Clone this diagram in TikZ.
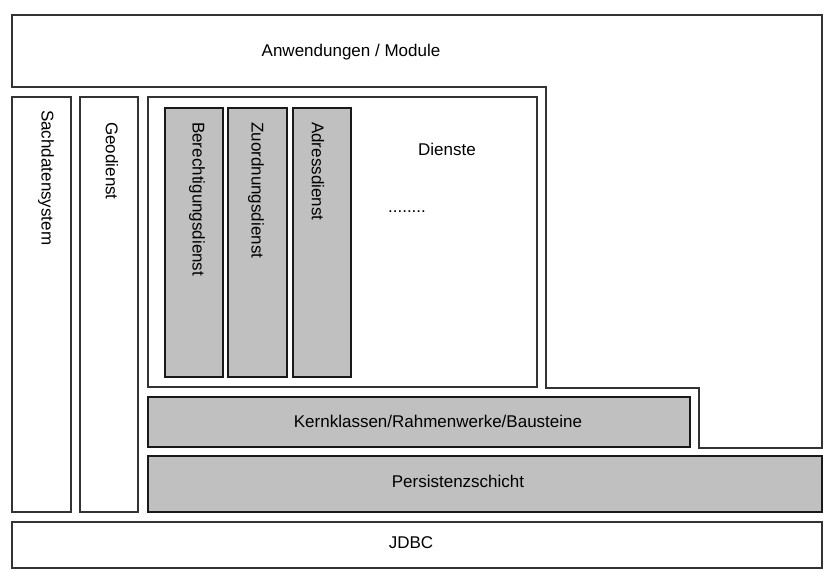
\documentclass[tikz,border=0pt]{standalone}
\usepackage{fontspec}
\setmainfont{Liberation Sans}
\usepackage{xcolor}
\usepackage{tikz}
\usetikzlibrary{fit}

\definecolor{layergrey}{HTML}{C0C0C0}
\definecolor{edgegrey}{HTML}{333333}

\begin{document}
\begin{tikzpicture}[
  x=1pt, y=-1pt,
  font=\fontsize{17}{20}\selectfont,
  frame/.style   ={rectangle, draw=edgegrey, line width=1.7pt, inner sep=0pt},
  whitebox/.style={frame, fill=white},
  greybox/.style ={frame, fill=layergrey, draw=black!90},
  lbl/.style     ={inner sep=0pt, text=black},
  vlbl/.style    ={lbl, rotate=-90, anchor=west},
]
\useasboundingbox (0,0) rectangle (824,570);

% ---------- top layer (stepped outline) ----------
\draw[draw=edgegrey, line width=1.7pt, fill=white]
  (12,15) -- (822,15) -- (822,448) -- (699,448) -- (699,388)
  -- (546,388) -- (546,87) -- (12,87) -- cycle;
\node[lbl] (anw) at (351,52) {Anwendungen / Module};

% ---------- side columns ----------
\node[whitebox, fit={(12,97) (71,512)}] (sach) {};
\node[vlbl] (sachtxt) at (46,110) {Sachdatensystem};
\node[whitebox, fit={(80,97) (138,512)}] (geo) {};
\node[vlbl] (geotxt) at (112,122) {Geodienst};

% ---------- services ----------
\node[whitebox, fit={(148,97) (537,387)}] (dienste) {};
\node[greybox, fit={(165,108) (223,377)}] (berecht) {};
\node[vlbl] (berechttxt) at (197,122) {Berechtigungsdienst};
\node[greybox, fit={(228,108) (287,377)}] (zuord) {};
\node[vlbl] (zuordtxt) at (256,122) {Zuordnungsdienst};
\node[greybox, fit={(293,108) (351,377)}] (adress) {};
\node[vlbl] (adresstxt) at (318,122) {Adressdienst};
\node[lbl] (diensttxt) at (447,149) {Dienste};
\node[lbl] (more) at (407,212) {........};

% ---------- lower layers ----------
\node[greybox, fit={(148,397) (690,447)}] (kern) {};
\node[lbl] (kerntxt) at (438,421) {Kernklassen/Rahmenwerke/Bausteine};
\node[greybox, fit={(148,456) (822,512)}] (persist) {};
\node[lbl] (persisttxt) at (458,481) {Persistenzschicht};
\node[whitebox, fit={(12,522) (822,568)}] (jdbc) {};
\node[lbl] (jdbctxt) at (411,543) {JDBC};

\end{tikzpicture}
\end{document}
